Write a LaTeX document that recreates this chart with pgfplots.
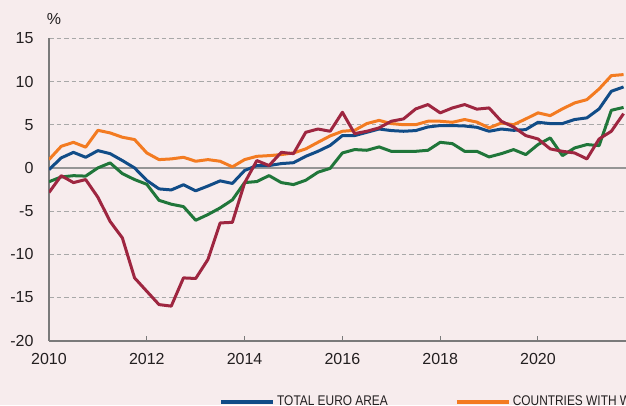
\documentclass[border=0pt]{standalone}
\usepackage{pgfplots}
\pgfplotsset{compat=1.18}
\usepackage{pgfplotstable}
\usepackage{fontspec}
\setmainfont{Liberation Sans}
\newfontfamily\narrowfont[FakeStretch=0.85]{Liberation Sans}

\definecolor{bgpink}{RGB}{247,236,237}
\definecolor{cblue}{RGB}{17,76,135}
\definecolor{corange}{RGB}{243,123,33}
\definecolor{cgreen}{RGB}{32,118,58}
\definecolor{cred}{RGB}{158,38,64}
\definecolor{gridc}{RGB}{168,168,168}
\definecolor{axisc}{RGB}{122,122,122}
\definecolor{textc}{RGB}{35,31,32}

% quarterly data, year-on-year %
\pgfplotstableread{
year    total  weak   green  red
2010.00 -0.2   0.96   -1.6   -2.85
2010.25 1.16   2.5    -1.05  -0.9
2010.50 1.8    2.96   -0.9   -1.7
2010.75 1.23   2.4    -0.95  -1.35
2011.00 2.0    4.35   0.0    -3.4
2011.25 1.65   4.05   0.58   -6.2
2011.50 0.85   3.55   -0.66  -8.1
2011.75 0.0    3.28   -1.35  -12.73
2012.00 -1.45  1.73   -1.9   -14.28
2012.25 -2.43  0.96   -3.75  -15.82
2012.50 -2.55  1.04   -4.2   -16.0
2012.75 -1.95  1.23   -4.48  -12.73
2013.00 -2.65  0.77   -6.06  -12.8
2013.25 -2.1   0.96   -5.4   -10.6
2013.50 -1.5   0.77   -4.63  -6.37
2013.75 -1.8   0.12   -3.7   -6.3
2014.00 -0.3   0.96   -1.7   -1.74
2014.25 0.27   1.34   -1.58  0.85
2014.50 0.27   1.42   -0.89  0.27
2014.75 0.5    1.54   -1.7   1.8
2015.00 0.6    1.73   -1.93  1.65
2015.25 1.34   2.2    -1.43  4.12
2015.50 1.92   2.96   -0.5   4.5
2015.75 2.6    3.7    -0.05  4.24
2016.00 3.74   4.24   1.73   6.44
2016.25 3.74   4.35   2.12   3.97
2016.50 4.12   5.13   2.04   4.24
2016.75 4.5    5.5    2.43   4.63
2017.00 4.32   5.13   1.92   5.4
2017.25 4.24   5.0    1.92   5.67
2017.50 4.32   5.0    1.92   6.83
2017.75 4.74   5.4    2.04   7.33
2018.00 4.9    5.4    2.96   6.37
2018.25 4.9    5.28   2.81   6.94
2018.50 4.85   5.6    1.92   7.33
2018.75 4.7    5.3    1.92   6.8
2019.00 4.24   4.63   1.27   6.94
2019.25 4.5    5.2    1.65   5.4
2019.50 4.35   5.0    2.12   4.74
2019.75 4.43   5.67   1.54   3.74
2020.00 5.28   6.37   2.7    3.35
2020.25 5.13   6.05   3.47   2.2
2020.50 5.13   6.83   1.42   1.92
2020.75 5.6    7.52   2.31   1.73
2021.00 5.79   7.9    2.7    1.04
2021.25 6.83   9.14   2.58   3.35
2021.50 8.87   10.68  6.67   4.24
2021.75 9.37   10.8   7.0    6.28
}\datatable

\begin{document}
\begin{tikzpicture}[x=1pt,y=1pt]
\fill[bgpink] (0,0) rectangle (626,405);
\begin{axis}[
    at={(49pt,64.3pt)}, anchor=south west,
    scale only axis, width=577pt, height=302.4pt,
    xmin=2010, xmax=2021.8, ymin=-20, ymax=15,
    axis x line*=bottom, axis y line*=left,
    axis line style={axisc, line width=2.2pt},
    xtick={2010,2012,...,2020},
    ytick={-20,-15,...,15},
    tick align=inside,
    major tick length=5pt,
    x tick style={axisc, line width=1pt},
    y tick style={draw=none},
    ymajorgrids,
    grid style={gridc, line width=1.1pt, dash pattern=on 4.5pt off 3pt},
    extra y ticks={0}, extra y tick labels={},
    extra y tick style={grid style={solid, axisc!80, line width=2pt}},
    tick label style={font=\fontsize{16}{16}\selectfont, text=textc},
    /pgf/number format/assume math mode=true,
    xticklabel style={/pgf/number format/1000 sep={}, yshift=-9pt},
    yticklabel style={xshift=-12pt},
    ylabel={\%},
    ylabel style={rotate=-90, at={(axis description cs:0,1)}, anchor=center,
        xshift=5pt, yshift=19.3pt, font=\fontsize{16}{16}\selectfont, text=textc},
    legend columns=2,
    legend style={at={(axis description cs:0.2946,-0.2017)}, anchor=west,
        draw=none, fill=none, inner sep=0pt,
        font=\narrowfont\fontsize{14}{14}\selectfont, text=textc,
        /tikz/every even column/.append style={column sep=65pt}},
    legend image code/.code={\draw[#1, line width=4pt] (0pt,0pt) -- (52pt,0pt);},
    every axis plot/.append style={line width=3pt, line join=round},
]
\addplot[cblue] table[x=year, y=total] {\datatable};
\addlegendentry{TOTAL EURO AREA}
\addplot[corange] table[x=year, y=weak] {\datatable};
\addlegendentry{COUNTRIES WITH W}
\addplot[cgreen, forget plot] table[x=year, y=green] {\datatable};
\addplot[cred, forget plot] table[x=year, y=red] {\datatable};
\end{axis}
\pgfresetboundingbox
\useasboundingbox (0,0) rectangle (626,405);
\end{tikzpicture}
\end{document}
